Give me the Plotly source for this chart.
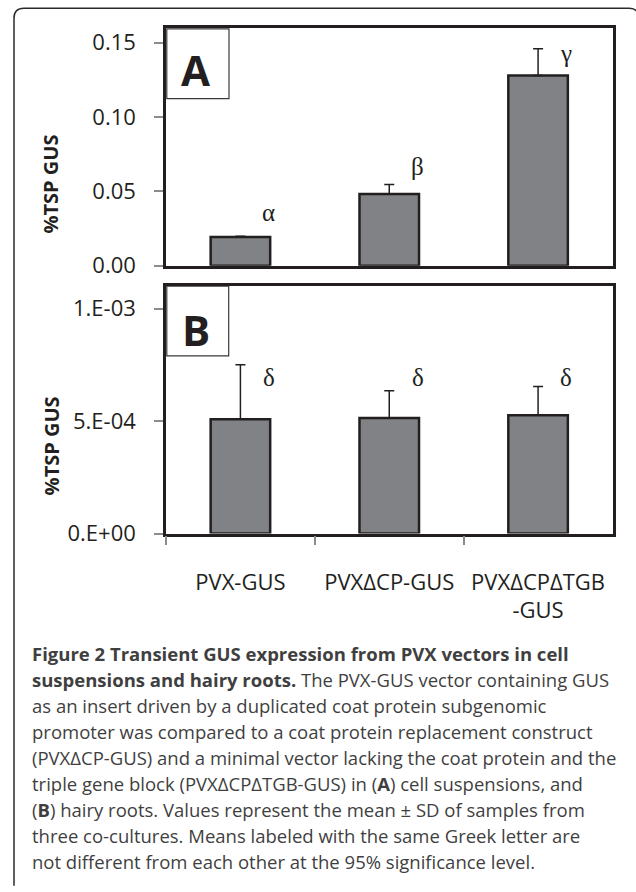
import plotly.graph_objects as go

# ---------------- data ----------------
categories = ["PVX-GUS", "PVXΔCP-GUS", "PVXΔCPΔTGB<br>-GUS"]

a_means = [0.0194, 0.0482, 0.128]
a_sd = [0.0004, 0.0064, 0.018]
a_letters = ["α", "β", "γ"]
a_letter_y = [0.036, 0.0667, 0.1427]

b_means = [5.08e-4, 5.14e-4, 5.26e-4]
b_sd = [2.42e-4, 1.21e-4, 1.28e-4]
b_letters = ["δ", "δ", "δ"]
b_letter_y = [6.96e-4, 6.96e-4, 6.96e-4]

a_tickvals = [0.0, 0.05, 0.10, 0.15]
b_tickvals = [0.0, 5e-4, 1e-3]
b_ticktext = ["0.E+00", "5.E-04", "1.E-03"]

y_title = "%TSP GUS"
panel_labels = ["A", "B"]

caption_lines = [
    "<b>Figure 2 Transient GUS expression from PVX vectors in cell</b>",
    "<b>suspensions and hairy roots.</b> The PVX-GUS vector containing GUS",
    "as an insert driven by a duplicated coat protein subgenomic",
    "promoter was compared to a coat protein replacement construct",
    "(PVXΔCP-GUS) and a minimal vector lacking the coat protein and the",
    "triple gene block (PVXΔCPΔTGB-GUS) in (<b>A</b>) cell suspensions, and",
    "(<b>B</b>) hairy roots. Values represent the mean ± SD of samples from",
    "three co-cultures. Means labeled with the same Greek letter are",
    "not different from each other at the 95% significance level.",
]

# ---------------- layout helpers ----------------
W, H = 636, 892


def px(x):
    return x / W


def py(y):
    return 1 - y / H


BAR_FILL = "#808285"
EDGE = "#231f20"
TICK_GRAY = "#8c8c8c"
FONT = "Open Sans"

fig = go.Figure()

for means, sd, xa, ya in [(a_means, a_sd, "x", "y"), (b_means, b_sd, "x2", "y2")]:
    fig.add_trace(go.Bar(
        x=categories, y=means, width=0.4,
        marker=dict(color=BAR_FILL, line=dict(color=EDGE, width=2.5)),
        error_y=dict(type="data", array=sd, arrayminus=[0] * len(sd), symmetric=False,
                     color=EDGE, thickness=1.5, width=5),
        xaxis=xa, yaxis=ya, showlegend=False, hoverinfo="skip",
    ))

annotations = []
for letters, ys, xr, yr in [(a_letters, a_letter_y, "x", "y"), (b_letters, b_letter_y, "x2", "y2")]:
    for i, (t, yv) in enumerate(zip(letters, ys)):
        annotations.append(dict(
            x=i + 0.19, y=yv, xref=xr, yref=yr, text=t, showarrow=False,
            font=dict(family="Liberation Serif", size=25, color="#231f20"),
            xanchor="center", yanchor="middle"))

# y-axis titles
for ycen in [186.7, 453]:
    annotations.append(dict(
        x=px(51), y=py(ycen), xref="paper", yref="paper", text="<b>" + y_title + "</b>",
        textangle=-90, showarrow=False, xanchor="center", yanchor="middle",
        font=dict(family=FONT, size=20, color="#231f20")))

# panel letters
for lab, (cx, cy) in zip(panel_labels, [(195.5, 70), (196, 334)]):
    annotations.append(dict(
        x=px(cx), y=py(cy), xref="paper", yref="paper", text="<b>" + lab + "</b>",
        showarrow=False, xanchor="center", yanchor="middle",
        font=dict(family=FONT, size=42, color="#231f20")))

# caption
cap_y0, cap_dy = 664, 26.4
for k, line in enumerate(caption_lines):
    annotations.append(dict(
        x=px(30), y=py(cap_y0 + k * cap_dy), xref="paper", yref="paper", text=line,
        showarrow=False, xanchor="left", yanchor="middle", align="left",
        font=dict(family=FONT, size=18.5, color="#3f3f3f")))

shapes = []
# panel letter boxes
for (x0, y0, x1, y1) in [(166.8, 28.3, 229, 99.3), (166.8, 290, 228.7, 361)]:
    shapes.append(dict(type="rect", xref="paper", yref="paper",
                       x0=px(x0), x1=px(x1), y0=py(y1), y1=py(y0),
                       line=dict(color="#3a3a3a", width=1.2), fillcolor="white", layer="below"))

# outer rounded frame (left, top, right; open bottom)
L, T, R, B, r = 14, 7.5, 639, 900, 10
path = (f"M {px(L)},{py(B)} L {px(L)},{py(T + r)} Q {px(L)},{py(T)} {px(L + r)},{py(T)} "
        f"L {px(R - r)},{py(T)} Q {px(R)},{py(T)} {px(R)},{py(T + r)} L {px(R)},{py(B)}")
shapes.append(dict(type="path", xref="paper", yref="paper", path=path,
                   line=dict(color="#2a2a2a", width=1.5)))

xdom = [px(166), px(612.5)]
common_x = dict(domain=xdom, type="category", range=[-0.5, 2.5], showgrid=False,
                showline=True, linecolor=EDGE, linewidth=2.5, mirror=True, zeroline=False,
                fixedrange=True)
common_y = dict(showgrid=False, zeroline=False, showline=True, linecolor=EDGE, linewidth=2.5,
                mirror=True, ticks="outside", ticklen=9, tickwidth=2, tickcolor=TICK_GRAY,
                ticklabelstandoff=14, tickfont=dict(family=FONT, size=22, color="#231f20"))

fig.update_layout(
    width=W, height=H, autosize=False,
    margin=dict(l=0, r=0, t=0, b=0),
    paper_bgcolor="white", plot_bgcolor="white",
    bargap=0.6,
    xaxis=dict(common_x, anchor="y", showticklabels=False, ticks=""),
    yaxis=dict(common_y, domain=[py(269.3), py(27.3)], anchor="x", range=[0, 0.16],
               tickvals=a_tickvals, tickformat=".2f"),
    xaxis2=dict(common_x, anchor="y2", ticks="outside", tickson="boundaries", ticklen=9,
                tickwidth=2, tickcolor=TICK_GRAY, ticklabelstandoff=27,
                tickfont=dict(family=FONT, size=22, color="#231f20")),
    yaxis2=dict(common_y, domain=[py(541.7), py(290)], anchor="x2", range=[0, 0.0011],
                tickvals=b_tickvals, ticktext=b_ticktext),
    annotations=annotations,
    shapes=shapes,
)

fig.write_html("out.html", config={"displayModeBar": False},
               post_script="document.body.style.margin='0';document.body.style.overflow='hidden';")
